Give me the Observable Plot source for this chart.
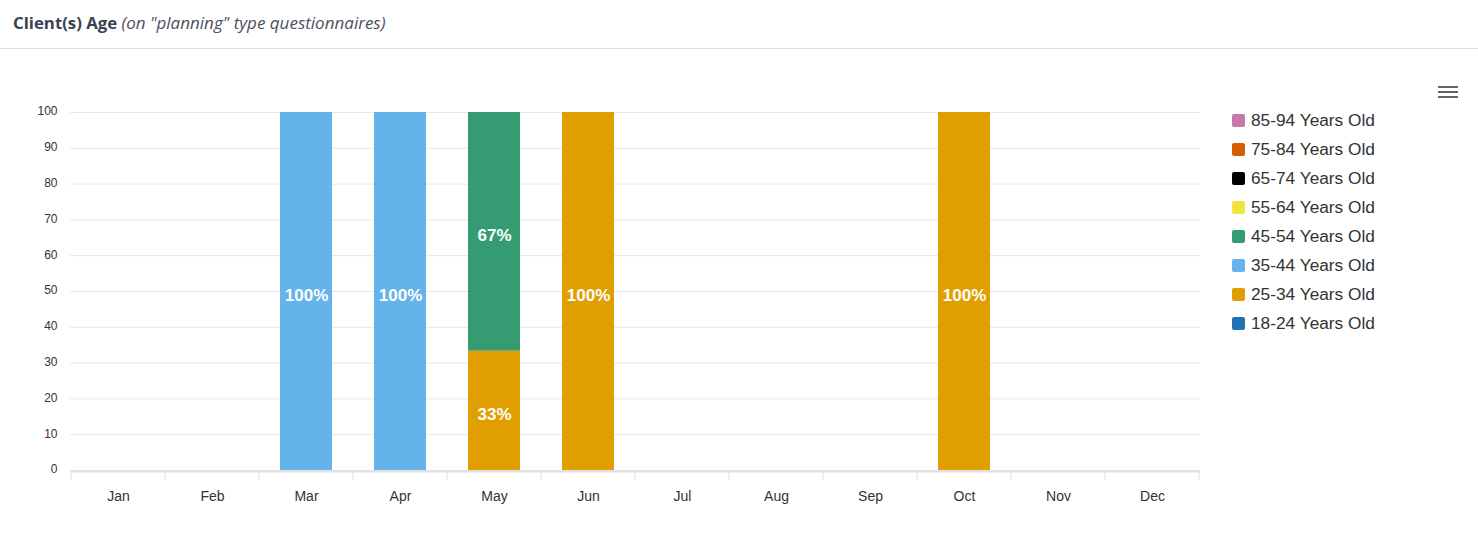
<!DOCTYPE html>
<html>
<head>
<meta charset="utf-8">
<script src="https://cdn.jsdelivr.net/npm/d3@7"></script>
<script src="https://cdn.jsdelivr.net/npm/@observablehq/plot@0.6"></script>
<style>
  html, body { margin: 0; padding: 0; background: #fff; width: 1478px; height: 542px; overflow: hidden; position: relative; }
  #header { height: 48px; border-bottom: 1px solid #dddddd; box-sizing: content-box; font-family: "Open Sans", "Noto Sans", sans-serif; color: #3a4252; padding-left: 13px; line-height: 45px; }
  #header b { font-size: 16.8px; font-weight: 700; }
  #header i { font-size: 17px; color: #4a5060; }
  #chart { position: absolute; left: 0; top: 50px; }
  #legend { position: absolute; left: 1232px; top: 106px; font-family: "Liberation Sans", Arial, sans-serif; font-size: 17.3px; color: #333; }
  .li { height: 29px; display: flex; align-items: center; }
  .sw { width: 13px; height: 13px; border-radius: 2px; margin-right: 6px; }
  #menu { position: absolute; left: 1438px; top: 86px; width: 20px; }
  #menu div { height: 2px; background: #666; margin-bottom: 3px; }
</style>
</head>
<body>
<div id="header"><b>Client(s) Age</b> <i>(on "planning" type questionnaires)</i></div>
<div id="chart"></div>
<div id="menu"><div></div><div></div><div></div></div>
<div id="legend"></div>
<script>
const months = ["Jan","Feb","Mar","Apr","May","Jun","Jul","Aug","Sep","Oct","Nov","Dec"];
const ageGroups = ["18-24 Years Old","25-34 Years Old","35-44 Years Old","45-54 Years Old","55-64 Years Old","65-74 Years Old","75-84 Years Old","85-94 Years Old"];
const groupColors = ["#2271b2","#e09e00","#64b3ea","#359b73","#f0e442","#000000","#d55e00","#c879a7"];
const yTicks = [0,10,20,30,40,50,60,70,80,90,100];

// percentages per month for each age group (non-zero only)
const recMonth = ["Mar","Apr","May","May","Jun","Oct"];
const recGroup = ["35-44 Years Old","35-44 Years Old","25-34 Years Old","45-54 Years Old","25-34 Years Old","25-34 Years Old"];
const recValue = [100, 100, 33.33, 66.67, 100, 100];
const recLabel = ["100%","100%","33%","67%","100%","100%"];

const data = recMonth.map((m, i) => ({month: m, group: recGroup[i], value: recValue[i], label: recLabel[i]}));

const plot = Plot.plot({
  width: 1220,
  height: 492,
  marginLeft: 70,
  marginRight: 20,
  marginTop: 62,
  marginBottom: 72,
  style: {fontFamily: "'Liberation Sans', Arial, sans-serif", color: "#333", background: "transparent"},
  x: {domain: months, paddingInner: 0.45, paddingOuter: 0.225, label: null},
  y: {domain: [0, 100], label: null},
  color: {domain: ageGroups, range: groupColors},
  marks: [
    Plot.gridY(yTicks, {stroke: "#e6e6e6", strokeOpacity: 1}),
    Plot.axisY(yTicks, {tickSize: 0, tickPadding: 13, fontSize: 12, fill: "#333", label: null, dy: -1}),
    Plot.axisX({tickSize: 0, tickPadding: 21, fontSize: 14, fill: "#333", label: null}),
    Plot.barY(data, Plot.stackY({x: "month", y: "value", fill: "group", order: ageGroups})),
    Plot.ruleY([0], {stroke: "#e0e0e0", strokeWidth: 2, dy: 1}),
    Plot.text(data, Plot.stackY({x: "month", y: "value", z: "group", order: ageGroups, text: "label", fill: "white", fontSize: 17, fontWeight: "bold", dy: 4}))
  ]
});
document.getElementById("chart").appendChild(plot);

// band boundary ticks on the x axis, from the plot's own x scale
const xs = plot.scale("x");
const bw = xs.bandwidth;
const step = xs.step;
const svg = d3.select(plot);
const edges = months.map(m => xs.apply(m) - (step - bw) / 2);
edges.push(xs.apply(months[months.length - 1]) + bw + (step - bw) / 2);
const y0 = plot.scale("y").apply(0);
svg.append("g").selectAll("line").data(edges).join("line")
  .attr("x1", d => d).attr("x2", d => d)
  .attr("y1", y0).attr("y2", y0 + 10)
  .attr("stroke", "#e0e0e0").attr("stroke-width", 1);

// legend
const lg = document.getElementById("legend");
ageGroups.slice().reverse().forEach(g => {
  const row = document.createElement("div"); row.className = "li";
  const sw = document.createElement("div"); sw.className = "sw";
  sw.style.background = groupColors[ageGroups.indexOf(g)];
  const t = document.createElement("span"); t.textContent = g;
  row.appendChild(sw); row.appendChild(t); lg.appendChild(row);
});
</script>
</body>
</html>
